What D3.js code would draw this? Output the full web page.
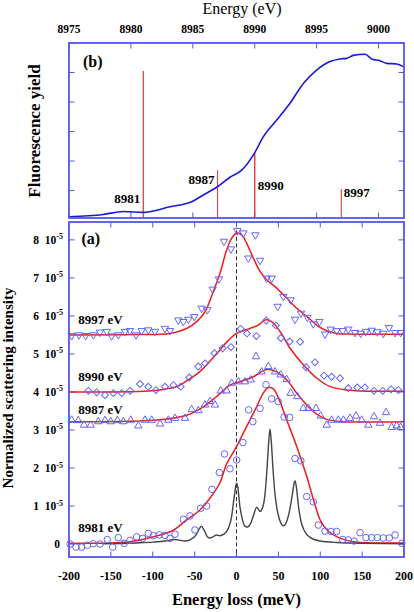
<!DOCTYPE html>
<html><head><meta charset="utf-8">
<script src="https://cdn.jsdelivr.net/npm/d3@7"></script>
<style>body{margin:0;background:#fff}svg{display:block}text{font-family:"Liberation Serif","Times New Roman",serif}</style>
</head><body><svg id="c" width="414" height="612"></svg>
<script>
// ---------- DATA ----------
const topTicks = [8975, 8980, 8985, 8990, 8995, 9000];
const fyEnergy = [8975.0, 8977.77, 8979.39, 8981.0, 8983.16, 8984.91, 8985.85, 8986.98, 8988.0, 8988.95, 8989.97, 8990.69, 8991.78, 8992.85, 8993.93, 8995.0, 8996.08, 8996.89, 8997.43, 8997.96, 8998.91, 8999.45, 9000.12, 9000.66, 9001.47, 9002.0];
const fyYield  = [0.11, 0.19, 0.29, 0.26, 0.45, 0.62, 0.85, 1.13, 1.45, 1.69, 2.26, 2.82, 3.39, 3.96, 4.63, 5.08, 5.37, 5.46, 5.48, 5.58, 5.62, 5.46, 5.40, 5.31, 5.29, 5.20];
const stickEnergy = [8981, 8987, 8990, 8997];
const stickHeight = [5.05, 1.69, 2.27, 1.05];
const stickLabels = ["8981", "8987", "8990", "8997"];
const fyTicks = [1, 2, 3, 4, 5, 6];

const lossTicks = [-200, -150, -100, -50, 0, 50, 100, 150, 200];
const intTicks = [0, 1, 2, 3, 4, 5, 6, 7, 8]; // units of 1e-5
const seriesNames = ["8997 eV", "8990 eV", "8987 eV", "8981 eV"];

// 8997 eV (down triangles)
const e8997 = [-196.8,-188.1,-180.1,-170.9,-163.0,-155.0,-149.1,-141.1,-133.1,-127.2,-120.0,-113.2,-105.3,-97.3,-85.4,-79.4,-69.5,-63.5,-57.5,-50.4,-41.6,-34.8,-28.4,-20.9,-14.9,-6.6,1.0,8.2,14.1,22.5,28.1,36.0,42.0,49.2,55.9,64.7,69.9,77.0,84.6,91.7,98.9,105.7,112.5,119.6,126.8,133.5,141.5,148.3,154.3,161.4,168.2,175.3,182.1,189.3,196.0];
const v8997 = [5.48,5.50,5.48,5.50,5.57,5.59,5.47,5.50,5.59,5.61,5.50,5.61,5.63,5.59,5.67,5.61,5.89,5.85,5.91,5.98,6.20,6.16,6.70,6.97,7.96,7.76,8.24,8.18,7.52,8.13,7.46,6.99,6.99,6.25,6.51,6.42,5.91,6.07,5.96,5.79,5.85,5.52,5.65,5.61,5.61,5.65,5.56,5.54,5.59,5.62,5.58,5.54,5.69,5.56,5.56];
const fitE8997 = [-200,-120,-79.4,-59.5,-47.5,-37.6,-27.7,-19.7,-11.7,-5.8,0.2,6.2,12.2,20.1,28.1,36.0,48.0,59.9,71.9,83.8,95.8,107.7,119.6,140,200];
const fitV8997 = [5.50,5.51,5.54,5.67,5.85,6.11,6.64,7.12,7.74,8.04,8.18,8.13,7.91,7.52,7.17,6.95,6.73,6.47,6.20,5.99,5.76,5.61,5.54,5.52,5.52];

// 8990 eV (diamonds)
const e8990 = [-176.9,-167.0,-157.0,-147.1,-137.1,-127.2,-115.2,-105.3,-96.1,-85.4,-75.4,-66.6,-56.4,-45.6,-37.6,-26.3,-16.5,-6.6,5.0,12.5,23.7,35.5,47.0,53.0,63.5,76.0,83.0,93.7,104.5,113.6,123.6,133.5,144.3,153.4,164.2,174.6,184.5,193.2];
const v8990 = [4.03,3.99,3.92,3.97,3.97,4.03,4.21,4.14,4.05,4.14,4.18,4.14,4.38,4.67,4.75,5.02,5.15,5.18,5.66,5.54,5.47,5.88,5.75,5.42,5.33,5.32,4.65,4.78,4.43,4.40,4.36,4.10,4.12,4.12,4.03,4.03,4.07,4.05];
const fitE8990 = [-200,-100,-80,-70,-55,-44,-32,-20,-10,0,16,26,35,42,52,64,80,96,112,132,160,200];
const fitV8990 = [4.00,4.03,4.10,4.15,4.36,4.53,4.80,5.10,5.35,5.54,5.67,5.76,5.90,5.85,5.59,5.15,4.71,4.36,4.14,4.05,4.02,4.02];

// 8987 eV (up triangles)
const e8987 = [-196.8,-188.9,-182.1,-174.1,-165.0,-157.0,-150.2,-142.3,-135.1,-126.3,-117.2,-109.3,-101.3,-91.3,-81.4,-73.4,-61.5,-53.5,-45.6,-37.6,-31.6,-25.7,-18.9,-11.7,-5.8,2.2,10.1,16.9,23.3,30.0,38.0,46.0,52.7,59.9,64.7,72.6,79.8,85.8,94.9,100.5,107.7,113.6,121.6,127.6,135.5,142.7,149.5,157.4,164.2,171.3,178.5,185.3,191.3,196.0];
const v8987 = [3.26,3.25,3.13,3.13,3.22,3.25,3.22,3.25,3.22,3.26,3.11,3.26,3.26,3.16,3.26,3.31,3.31,3.54,3.51,3.66,3.75,3.66,4.03,4.03,4.23,4.27,4.27,4.32,4.93,4.53,4.67,4.53,4.45,4.33,3.97,3.88,3.57,3.57,3.57,3.37,3.13,3.26,3.26,3.26,3.31,3.37,3.26,3.13,3.35,3.18,3.46,3.07,3.11,3.07];
const fitE8987 = [-200,-91.3,-59.5,-39.6,-23.6,-7.8,4.2,20.1,32.0,38.0,47.9,59.9,71.9,83.8,95.8,107.7,127.5,200];
const fitV8987 = [3.22,3.27,3.39,3.61,3.88,4.18,4.27,4.40,4.56,4.60,4.53,4.32,3.97,3.66,3.42,3.28,3.22,3.22];

// 8981 eV (circles)
const e8981 = [-198.8,-191.6,-184.9,-178.1,-171.0,-163.0,-154.2,-147.8,-141.1,-134.0,-127.2,-119.2,-112.0,-105.3,-99.3,-92.2,-85.4,-79.4,-73.4,-63.5,-55.5,-49.6,-42.8,-35.6,-29.3,-20.5,-14.3,-7.8,0.2,7.7,14.5,19.5,28.1,35.2,42.0,49.9,56.9,63.5,69.9,76.8,83.8,91.7,97.7,105.7,112.8,119.6,126.8,133.5,140.3,147.5,154.6,161.4,168.1,175.3,182.4,189.3,197.3];
const v8981 = [0.00,-0.08,-0.08,-0.03,0.01,0.00,0.12,-0.08,0.17,0.02,0.10,0.19,0.15,0.28,0.22,0.24,0.23,0.15,0.26,0.65,0.74,0.37,0.94,1.00,1.44,1.88,2.37,1.98,2.21,2.67,3.53,3.22,3.57,4.19,3.82,3.75,3.34,3.33,2.25,2.19,1.25,1.11,0.50,0.34,0.33,0.33,0.12,0.11,0.08,0.30,0.17,0.17,0.17,0.16,0.16,0.24,0.02];
const fitE8981 = [-200,-150,-127,-99,-75,-60,-44,-32,-20,-12,0,12,24,32,38,44,50,60,72,84,92,100,108,120,140,160,200];
const fitV8981 = [0.02,0.03,0.06,0.19,0.37,0.63,0.89,1.20,1.60,2.10,2.56,3.09,3.61,3.97,4.12,4.08,3.85,3.26,2.56,1.77,1.16,0.63,0.37,0.19,0.06,0.03,0.03];
// calculated spectrum (black line)
const calcE = [-160,-120,-100,-85,-75,-70,-62,-55,-48,-44,-42,-39,-35,-32,-28,-24,-20,-15,-10,-6,-3,-1,0,1.5,4,7,10,13,17,21,24,26,28,31,34,36.5,38.5,40,41.5,43.5,46,49,53,56,60,64,67,69,70,71.5,74,77,81,88,100,120,150,200];
const calcV = [0.01,0.03,0.05,0.08,0.12,0.11,0.08,0.12,0.25,0.42,0.47,0.38,0.20,0.16,0.19,0.24,0.22,0.26,0.40,0.70,1.20,1.50,1.60,1.50,1.00,0.65,0.47,0.45,0.55,0.80,0.97,0.92,0.86,0.95,1.30,2.00,2.70,3.02,2.70,2.00,1.30,0.85,0.55,0.48,0.60,0.95,1.35,1.62,1.66,1.50,1.00,0.60,0.35,0.17,0.08,0.04,0.02,0.01];

// ---------- DRAW ----------
const svg = d3.select("#c");
const frameCol = "#5555ee", markCol = "#6464ff", redCol = "#ee1c1c";
const L = 69, R = 404;

const xT = d3.scaleLinear().domain([8975, 9002.06]).range([L, R]);
const yT = d3.scaleLinear().domain([0.07, 6]).range([218, 43]);
const xB = d3.scaleLinear().domain([-200, 200]).range([L, R]);
const yB = d3.scaleLinear().domain([-0.34, 8.47]).range([557, 222]);

function frame(x0, y0, x1, y1) {
  svg.append("rect").attr("x", x0).attr("y", y0).attr("width", x1 - x0).attr("height", y1 - y0)
    .attr("fill", "none").attr("stroke", frameCol).attr("stroke-width", 1.8);
}
const tl = 5.5;
function vTicks(xs, yTop, yBot) {
  xs.forEach(x => {
    svg.append("line").attr("x1", x).attr("x2", x).attr("y1", yTop).attr("y2", yTop + tl).attr("stroke", frameCol).attr("stroke-width", 1);
    svg.append("line").attr("x1", x).attr("x2", x).attr("y1", yBot).attr("y2", yBot - tl).attr("stroke", frameCol).attr("stroke-width", 1);
  });
}
function hTicks(ys) {
  ys.forEach(y => {
    svg.append("line").attr("x1", L).attr("x2", L + tl).attr("y1", y).attr("y2", y).attr("stroke", frameCol).attr("stroke-width", 1);
    svg.append("line").attr("x1", R).attr("x2", R - tl).attr("y1", y).attr("y2", y).attr("stroke", frameCol).attr("stroke-width", 1);
  });
}

// ----- top panel -----
vTicks(topTicks.map(xT), 43, 218);
hTicks(fyTicks.map(yT));
svg.selectAll(".tt").data(topTicks).enter().append("text")
  .attr("x", d => xT(d)).attr("y", 33).attr("text-anchor", "middle")
  .attr("font-size", 11.5).attr("font-weight", "bold").text(d => d);
svg.append("text").attr("x", 242).attr("y", 13.5).attr("text-anchor", "middle").attr("font-size", 16).text("Energy (eV)");

stickEnergy.forEach((e, i) => {
  svg.append("line").attr("x1", xT(e)).attr("x2", xT(e)).attr("y1", yT(0.07)).attr("y2", yT(stickHeight[i]))
    .attr("stroke", redCol).attr("stroke-width", i === 2 ? 1.5 : 1.1).attr("stroke-opacity", i === 0 ? 1 : 0.85);
});
const stickLab = [{dx: -3, y: 203, a: "end"}, {dx: -3, y: 184, a: "end"}, {dx: 3, y: 190, a: "start"}, {dx: 2.5, y: 196.7, a: "start"}];
stickLabels.forEach((t, i) => {
  svg.append("text").attr("x", xT(stickEnergy[i]) + stickLab[i].dx).attr("y", stickLab[i].y)
    .attr("text-anchor", stickLab[i].a).attr("font-size", 13).attr("font-weight", "bold").text(t);
});
svg.append("path").datum(fyEnergy.map((e, i) => [e, fyYield[i]]))
  .attr("d", d3.line().x(d => xT(d[0])).y(d => yT(d[1])).curve(d3.curveMonotoneX))
  .attr("fill", "none").attr("stroke", "#1a1ad6").attr("stroke-width", 1.6);
frame(L, 43, R, 218);
svg.append("text").attr("x", 83).attr("y", 66.5).attr("font-size", 16).attr("font-weight", "bold").text("(b)");
svg.append("text").attr("transform", "translate(40,131) rotate(-90)").attr("text-anchor", "middle")
  .attr("font-size", 17).attr("font-weight", "bold").text("Fluorescence yield");

// ----- bottom panel -----
vTicks(lossTicks.map(xB), 222, 557);
hTicks(intTicks.map(yB));
svg.selectAll(".bt").data(lossTicks).enter().append("text")
  .attr("x", d => xB(d)).attr("y", 580).attr("text-anchor", "middle")
  .attr("font-size", 12).attr("font-weight", "bold").text(d => d);
intTicks.forEach(v => {
  const t = svg.append("text").attr("y", yB(v) + 4).attr("text-anchor", "end")
    .attr("font-size", 11.5).attr("font-weight", "bold");
  if (v === 0) { t.attr("x", 60).text("0"); }
  else {
    t.attr("x", 63);
    t.append("tspan").text(v + "\u2002" + "10");
    t.append("tspan").attr("dy", -4.5).attr("font-size", 8).text("-5");
  }
});
svg.append("text").attr("x", 236.5).attr("y", 605).attr("text-anchor", "middle")
  .attr("font-size", 16.5).attr("font-weight", "bold").text("Energy loss (meV)");
svg.append("text").attr("transform", "translate(13,388) rotate(-90)").attr("text-anchor", "middle")
  .attr("font-size", 15).attr("font-weight", "bold").text("Normalized scattering intensity");

svg.append("line").attr("x1", xB(0)).attr("x2", xB(0)).attr("y1", yB(8.25)).attr("y2", yB(-0.34))
  .attr("stroke", "#333").attr("stroke-width", 1).attr("stroke-dasharray", "4,2.5");

const line = d3.line().x(d => xB(d[0])).y(d => yB(d[1]));
function fit(E, V) {
  svg.append("path").datum(E.map((e, i) => [e, V[i]]))
    .attr("d", line.curve(d3.curveCatmullRom.alpha(0.5)))
    .attr("fill", "none").attr("stroke", redCol).attr("stroke-width", 1.5);
}
fit(fitE8997, fitV8997);
fit(fitE8990, fitV8990);
fit(fitE8987, fitV8987);
fit(fitE8981, fitV8981);
svg.append("path").datum(calcE.map((e, i) => [e, calcV[i]]))
  .attr("d", d3.line().x(d => xB(d[0])).y(d => yB(d[1])).curve(d3.curveMonotoneX))
  .attr("fill", "none").attr("stroke", "#444").attr("stroke-width", 1.4);

function markers(E, V, type, size, rot) {
  const sym = d3.symbol().type(type).size(size);
  svg.append("g").selectAll("path").data(E.map((e, i) => [e, V[i]])).enter().append("path")
    .attr("d", sym).attr("transform", d => `translate(${xB(d[0])},${yB(d[1])}) rotate(${rot})`)
    .attr("fill", "none").attr("stroke", markCol).attr("stroke-width", 1);
}
markers(e8997, v8997, d3.symbolTriangle, 24, 180);
markers(e8990, v8990, d3.symbolSquare, 24, 45);
markers(e8987, v8987, d3.symbolTriangle, 24, 0);
markers(e8981, v8981, d3.symbolCircle, 34, 0);

frame(L, 222, R, 557);
svg.append("text").attr("x", 81.5).attr("y", 244).attr("font-size", 16).attr("font-weight", "bold").text("(a)");
const labPos = [[-189, 5.79], [-189, 4.29], [-189, 3.42], [-189, 0.33]];
seriesNames.forEach((n, i) => {
  svg.append("text").attr("x", xB(labPos[i][0])).attr("y", yB(labPos[i][1]))
    .attr("font-size", 13).attr("font-weight", "bold").text(n);
});
</script></body></html>
